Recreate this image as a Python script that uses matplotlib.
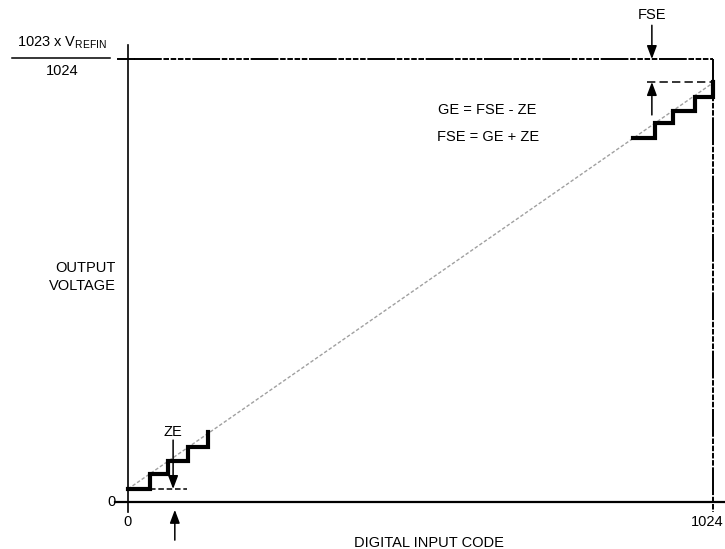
import matplotlib.pyplot as plt
import numpy as np

plt.rcParams['font.family'] = ['Liberation Sans', 'DejaVu Sans']
plt.rcParams['lines.scale_dashes'] = False

# data: x in input codes, y in LSB (full scale 1023)
full_code = 1024
full_out = 1023

# ideal transfer (gray dashed)
ideal_x = [0, 1024]
ideal_y = [30, 968]

# lower staircase (zero error region)
low_x = [0, 38, 70, 105, 140]
low_y = [30, 65, 95, 127, 162]

# upper staircase (full scale region)
high_x = [884, 922, 954, 992, 1024]
high_y = [841, 875, 903, 935, 970]

ze_level = 30
fse_level = 970

x_ticklabels = ["0", "1024"]
y_ticklabels = ["0"]

FS = 10.5


def mixed_line(ax, xs, ys):
    # long dash followed by a run of short dashes, like the datasheet drawing
    ax.plot(xs, ys, color="black", lw=1.4, dashes=(20, 1.2, 4, 1.2, 4, 1.2, 4, 1.2, 4, 1.2),
            solid_capstyle="butt", dash_capstyle="butt")


def arrow(ax, x, y_from, y_to):
    ax.annotate("", xy=(x, y_to), xytext=(x, y_from),
                arrowprops=dict(arrowstyle="-|>,head_length=0.8,head_width=0.3",
                                color="black", lw=1.1, shrinkA=0, shrinkB=0))


fig = plt.figure(figsize=(7.25, 5.49), dpi=100)
ax = fig.add_axes([0, 0, 1, 1])
ax.set_xlim(-224, 1045)
ax.set_ylim(-108.5, 1159.4)
ax.axis("off")

# axes
ax.plot([0, 0], [-23, 1055], color="black", lw=1.2)
ax.plot([-23, 1045], [0, 0], color="black", lw=1.6)

# full scale box (top and right)
ax.plot([-18, 10], [full_out, full_out], color="black", lw=1.4)
mixed_line(ax, [10, full_code], [full_out, full_out])
mixed_line(ax, [full_code, full_code], [full_out, -23])

# ideal line
ax.plot(ideal_x, ideal_y, color="#a0a0a0", lw=1.0, dashes=(2.5, 1.5))

# staircases
ax.step(low_x, low_y, where="post", color="black", lw=3, solid_joinstyle="miter")
ax.step(high_x, high_y, where="post", color="black", lw=3, solid_joinstyle="miter")

# zero error marker
ax.plot([low_x[1], 103], [ze_level, ze_level], color="black", lw=1.1, dashes=(4, 2))
arrow(ax, 79, 143, ze_level)
arrow(ax, 82, -88, -18)
ax.text(79, 162, "ZE", ha="center", va="center", fontsize=FS)

# gain error marker
ax.plot([908, full_code], [fse_level, fse_level], color="black", lw=1.1, dashes=(6, 3))
arrow(ax, 917, 894, fse_level)

# full scale error marker
arrow(ax, 917, 1101, full_out)
ax.text(917, 1124, "FSE", ha="center", va="center", fontsize=FS)

# equations
ax.text(629, 905, "GE = FSE - ZE", ha="center", va="center", fontsize=FS)
ax.text(630, 843, "FSE = GE + ZE", ha="center", va="center", fontsize=FS)

# y label fraction
ax.text(-115, 1060, r"1023 x V$_{\mathregular{REFIN}}$", ha="center", va="center", fontsize=FS)
ax.plot([-203, -31], [1025, 1025], color="black", lw=1.1)
ax.text(-115, 995, "1024", ha="center", va="center", fontsize=FS)

ax.text(-21, 520, "OUTPUT\nVOLTAGE", ha="right", va="center", multialignment="right",
        fontsize=FS, linespacing=1.35)
ax.text(-28, 0, y_ticklabels[0], ha="center", va="center", fontsize=FS)

ax.text(0, -46, x_ticklabels[0], ha="center", va="center", fontsize=FS)
ax.text(1043, -46, x_ticklabels[1], ha="right", va="center", fontsize=FS)
ax.text(526, -95, "DIGITAL INPUT CODE", ha="center", va="center", fontsize=FS)

plt.savefig("out.png", dpi=100)
